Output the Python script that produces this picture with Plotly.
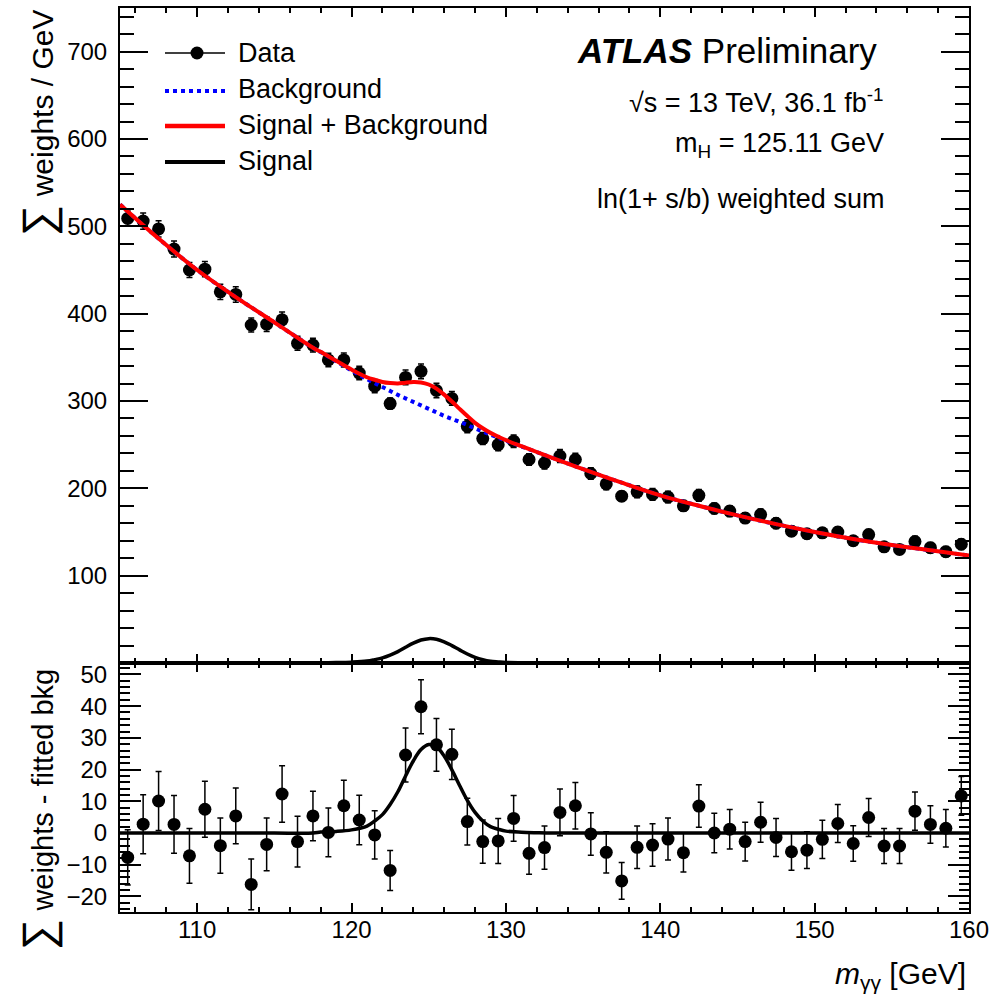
import plotly.graph_objects as go

# ---------------- data ----------------
BIN_CENTRES = [105.5, 106.5, 107.5, 108.5, 109.5, 110.5, 111.5, 112.5, 113.5, 114.5,
               115.5, 116.5, 117.5, 118.5, 119.5, 120.5, 121.5, 122.5, 123.5, 124.5,
               125.5, 126.5, 127.5, 128.5, 129.5, 130.5, 131.5, 132.5, 133.5, 134.5,
               135.5, 136.5, 137.5, 138.5, 139.5, 140.5, 141.5, 142.5, 143.5, 144.5,
               145.5, 146.5, 147.5, 148.5, 149.5, 150.5, 151.5, 152.5, 153.5, 154.5,
               155.5, 156.5, 157.5, 158.5, 159.5]

DATA_WEIGHTS = [509, 506, 497, 474, 450, 451, 425, 422, 387, 388,
                393, 366, 364, 347, 347, 332, 317, 297, 327, 334,
                312, 303, 271, 257, 250, 254, 233, 229, 237, 233,
                217, 205, 191, 196, 193, 190, 180, 192, 177, 174,
                166, 170, 160, 151, 148, 149, 150, 140, 147, 133,
                130, 139, 132, 127.5, 136]

RESIDUALS = [-7.7, 2.8, 10.1, 2.7, -7.2, 7.5, -4.0, 5.4, -16.2, -3.6,
             12.3, -2.7, 5.4, 0.2, 8.6, 4.1, -0.6, -11.8, 24.6, 39.8,
             27.8, 24.8, 3.6, -2.7, -2.5, 4.6, -6.4, -4.6, 6.5, 8.6,
             -0.3, -6.1, -15.1, -4.5, -3.8, -1.9, -6.2, 8.5, 0.0, 1.2,
             -2.7, 3.4, -1.4, -5.9, -5.4, -2.0, 3.0, -3.3, 4.9, -4.1,
             -4.1, 6.9, 2.7, 1.5, 11.7]

ERRORS = [8.7, 9.3, 9.3, 9.1, 8.6, 8.8, 8.7, 8.8, 8.0, 8.3,
          8.9, 8.0, 7.8, 7.7, 8.0, 7.8, 7.6, 6.3, 8.5, 8.5,
          8.3, 7.9, 7.4, 6.8, 7.1, 7.2, 6.6, 6.8, 7.4, 7.3,
          6.7, 6.5, 5.8, 6.7, 6.7, 6.6, 6.1, 6.7, 6.2, 6.2,
          6.1, 6.3, 6.0, 5.8, 5.8, 6.0, 6.0, 5.6, 6.0, 5.5,
          5.5, 6.0, 5.9, 5.9, 6.1]

CURVE_MASS = [105, 107.5, 110, 112.5, 115, 117.5, 118, 119, 120, 121,
              121.5, 122, 122.5, 123, 123.5, 124, 124.5, 125, 125.5, 126,
              126.5, 127, 127.5, 128, 128.5, 129, 129.5, 130, 131, 132,
              133, 135, 137.5, 140, 142.5, 145, 147.5, 150, 152.5, 155,
              157.5, 160]

BACKGROUND = [525, 486, 450, 419, 390, 361, 356, 345.5, 335, 325,
              320.5, 316, 311.5, 307, 303, 299, 295, 291, 287, 283,
              279.5, 276, 272.5, 268.5, 265, 261.5, 258, 254.5, 248, 241.5,
              235, 222, 206.5, 192, 180, 169, 159, 150, 142, 135,
              129, 123]

SIGNAL = [0, 0, 0, 0, 0, 0, 0.3, 0.5, 1.0, 2.2,
          3.8, 5.8, 9.0, 13.0, 18.0, 22.7, 26.3, 27.9, 27.2, 24.3,
          19.9, 15.0, 10.3, 6.5, 3.8, 2.0, 1.2, 0.6, 0.25, 0.1,
          0, 0, 0, 0, 0, 0, 0, 0, 0, 0,
          0, 0]

SIG_PLUS_BKG = [b + s for b, s in zip(BACKGROUND, SIGNAL)]

LEGEND_LABELS = ["Data", "Background", "Signal + Background", "Signal"]

FONT = "Liberation Sans, Arial, Helvetica, sans-serif"

# ---------------- figure ----------------
fig = go.Figure()

# top panel
fig.add_trace(go.Scatter(
    x=BIN_CENTRES, y=DATA_WEIGHTS, mode="markers",
    marker=dict(color="black", size=13),
    error_y=dict(type="data", array=ERRORS, color="black", thickness=1.5, width=3),
    xaxis="x", yaxis="y", showlegend=False))
fig.add_trace(go.Scatter(
    x=CURVE_MASS, y=BACKGROUND, mode="lines", line=dict(color="#0000ff", width=4, dash="dot", shape="spline"),
    xaxis="x", yaxis="y", showlegend=False))
fig.add_trace(go.Scatter(
    x=CURVE_MASS, y=SIG_PLUS_BKG, mode="lines", line=dict(color="#ff0000", width=4, shape="spline"),
    xaxis="x", yaxis="y", showlegend=False))
fig.add_trace(go.Scatter(
    x=CURVE_MASS, y=SIGNAL, mode="lines", line=dict(color="black", width=3.5, shape="spline"),
    xaxis="x", yaxis="y", showlegend=False, cliponaxis=False))

# bottom panel
fig.add_trace(go.Scatter(
    x=CURVE_MASS, y=SIGNAL, mode="lines", line=dict(color="black", width=3.5, shape="spline"),
    xaxis="x2", yaxis="y2", showlegend=False))
fig.add_trace(go.Scatter(
    x=BIN_CENTRES, y=RESIDUALS, mode="markers",
    marker=dict(color="black", size=13),
    error_y=dict(type="data", array=ERRORS, color="black", thickness=1.5, width=3),
    xaxis="x2", yaxis="y2", showlegend=False))

# empty traces so the mirrored tick axes (top / right) get drawn
for xa, ya in [("x3", "y"), ("x", "y3"), ("x4", "y2"), ("x2", "y4")]:
    fig.add_trace(go.Scatter(x=[], y=[], xaxis=xa, yaxis=ya, showlegend=False, hoverinfo="skip"))

L, R, T, B = 120, 20, 8, 87
W, H = 989, 999
PW, PH = W - L - R, H - T - B


def px(x):
    return (x - L) / PW


def py(y):
    return (H - B - y) / PH


split = (912 - 663) / PH

TOP_RANGE = [0, 750]
BOT_RANGE = [-24.9, 53.6]
X_RANGE = [105, 160]

tick_common = dict(ticks="inside", tickcolor="black", tickwidth=1.5,
                   showgrid=False, zeroline=False, automargin=False,
                   tickfont=dict(family=FONT, size=24, color="black"))
minor_x = dict(dtick=2, ticklen=5, ticks="inside", tickcolor="black", tickwidth=1.5, showgrid=False)
minor_y_top = dict(dtick=20, ticklen=14, ticks="inside", tickcolor="black", tickwidth=1.5, showgrid=False)
minor_y_bot = dict(dtick=2, ticklen=10, ticks="inside", tickcolor="black", tickwidth=1.5, showgrid=False)

fig.update_layout(
    width=W, height=H,
    margin=dict(l=L, r=R, t=T, b=B, autoexpand=False),
    paper_bgcolor="white", plot_bgcolor="white",
    font=dict(family=FONT, color="black"),
    # main axes
    xaxis=dict(domain=[0, 1], range=X_RANGE, anchor="y", dtick=10, tick0=100, ticklen=9,
               showticklabels=False, showline=True, linecolor="black", linewidth=2, mirror=True,
               minor=minor_x, **tick_common),
    yaxis=dict(domain=[split, 1], range=TOP_RANGE, anchor="x", ticklen=28,
               tickvals=[100, 200, 300, 400, 500, 600, 700], ticklabelstandoff=6,
               showline=True, linecolor="black", linewidth=2, mirror=True,
               minor=minor_y_top, **tick_common),
    xaxis2=dict(domain=[0, 1], range=X_RANGE, anchor="y2", dtick=10, tick0=100, ticklen=9,
                ticklabelstandoff=-5, ticklabeloverflow="allow",
                showline=True, linecolor="black", linewidth=2, mirror=True,
                minor=minor_x, **tick_common),
    yaxis2=dict(domain=[0, split], range=BOT_RANGE, anchor="x2", dtick=10, tick0=0, ticklen=21,
                ticklabelstandoff=6, showline=True, linecolor="black", linewidth=2, mirror=True,
                minor=minor_y_bot, **tick_common),
    # mirrored tick axes (top / right)
    xaxis3=dict(overlaying="x", side="top", anchor="y", range=X_RANGE, dtick=10, tick0=100, ticklen=9,
                showticklabels=False, showline=False, minor=minor_x, **tick_common),
    yaxis3=dict(overlaying="y", side="right", anchor="x", range=TOP_RANGE, dtick=100, tick0=0, ticklen=28,
                showticklabels=False, showline=False, minor=minor_y_top, **tick_common),
    xaxis4=dict(overlaying="x2", side="top", anchor="y2", range=X_RANGE, dtick=10, tick0=100, ticklen=9,
                showticklabels=False, showline=False, minor=minor_x, **tick_common),
    yaxis4=dict(overlaying="y2", side="right", anchor="x2", range=BOT_RANGE, dtick=10, tick0=0, ticklen=21,
                showticklabels=False, showline=False, minor=minor_y_bot, **tick_common),
)

shapes = []
# legend symbols
shapes.append(dict(type="line", xref="paper", yref="paper", x0=px(165), x1=px(225), y0=py(53), y1=py(53),
                   line=dict(color="black", width=1.5)))
shapes.append(dict(type="circle", xref="paper", yref="paper", x0=px(190.5), x1=px(203.5), y0=py(59.5), y1=py(46.5),
                   fillcolor="black", line=dict(color="black", width=0)))
shapes.append(dict(type="line", xref="paper", yref="paper", x0=px(165), x1=px(225), y0=py(91), y1=py(91),
                   line=dict(color="#0000ff", width=4, dash="dot")))
shapes.append(dict(type="line", xref="paper", yref="paper", x0=px(165), x1=px(225), y0=py(126), y1=py(126),
                   line=dict(color="#ff0000", width=4.5)))
shapes.append(dict(type="line", xref="paper", yref="paper", x0=px(165), x1=px(225), y0=py(162), y1=py(162),
                   line=dict(color="black", width=4)))
fig.update_layout(shapes=shapes)

ann = []
for label, yy in zip(LEGEND_LABELS, [53, 89, 125, 161]):
    ann.append(dict(text=label, xref="paper", yref="paper", x=px(236), y=py(yy), xanchor="left",
                    yanchor="middle", showarrow=False, font=dict(family=FONT, size=27, color="black")))

ann.append(dict(text="<b><i>ATLAS</i></b> Preliminary", xref="paper", yref="paper", x=px(879), y=py(50),
                xanchor="right", yanchor="middle", showarrow=False,
                font=dict(family=FONT, size=35, color="black")))
ann.append(dict(text="√s = 13 TeV, 36.1 fb<sup>-1</sup>", xref="paper", yref="paper", x=px(886), y=py(101),
                xanchor="right", yanchor="middle", showarrow=False,
                font=dict(family=FONT, size=27, color="black")))
ann.append(dict(text="m<sub>H</sub> = 125.11 GeV", xref="paper", yref="paper", x=px(886), y=py(145),
                xanchor="right", yanchor="middle", showarrow=False,
                font=dict(family=FONT, size=27, color="black")))
ann.append(dict(text="ln(1+ s/b) weighted sum", xref="paper", yref="paper", x=px(886), y=py(199),
                xanchor="right", yanchor="middle", showarrow=False,
                font=dict(family=FONT, size=27, color="black")))

# axis titles
ann.append(dict(text="<span style='font-size:44px'>∑</span> weights / GeV", xref="paper", yref="paper",
                x=px(38), y=py(8), xanchor="center", yanchor="top", textangle=-90, showarrow=False,
                font=dict(family=FONT, size=30, color="black")))
ann.append(dict(text="<span style='font-size:44px'>∑</span> weights - fitted bkg", xref="paper", yref="paper",
                x=px(38), y=py(810), xanchor="center", yanchor="middle", textangle=-90, showarrow=False,
                font=dict(family=FONT, size=29, color="black")))
ann.append(dict(text="<i>m</i><sub>γγ</sub> [GeV]", xref="paper", yref="paper",
                x=px(968), y=py(975), xanchor="right", yanchor="middle", showarrow=False,
                font=dict(family=FONT, size=30, color="black")))
fig.update_layout(annotations=ann)

fig.write_html("out.html", config={"displayModeBar": False},
               post_script="document.body.style.margin='0px';document.body.style.padding='0px';")
